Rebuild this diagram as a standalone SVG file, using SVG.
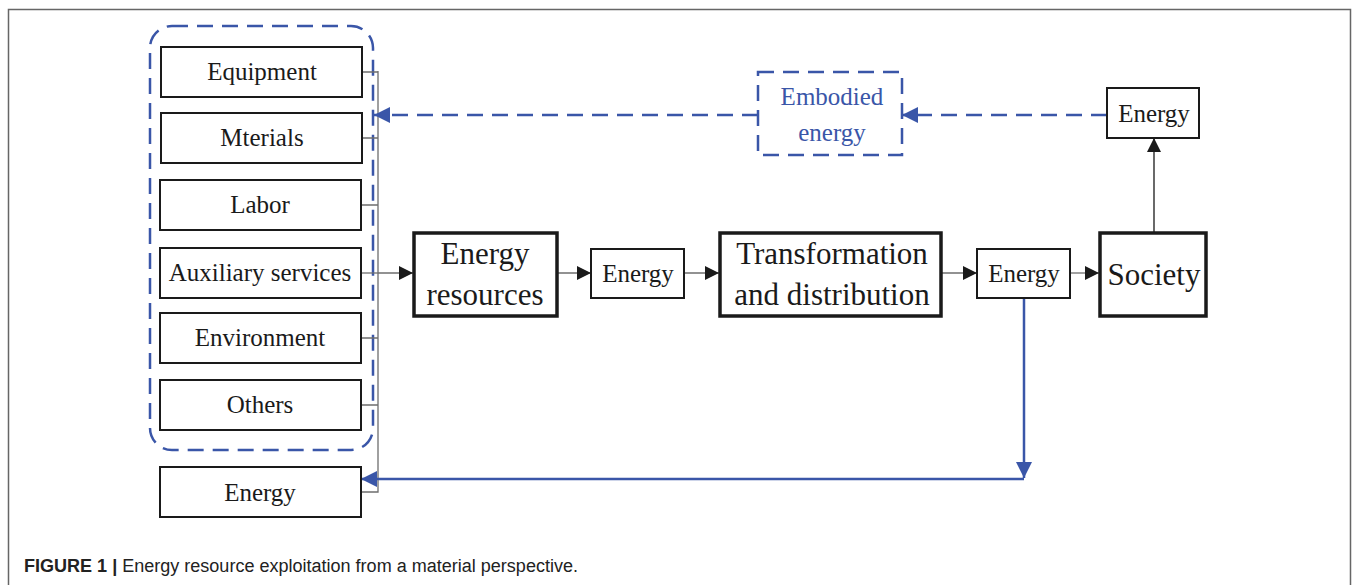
<svg xmlns="http://www.w3.org/2000/svg" width="1358" height="585" viewBox="0 0 1358 585">
<style>
.box{fill:#fff;stroke:#1a1a1a;stroke-width:2}
.thick{fill:#fff;stroke:#1a1a1a;stroke-width:3.5}
.t{font-family:"Liberation Serif","Times New Roman",serif;font-size:25px;fill:#1a1a1a;text-anchor:middle}
.tb{font-family:"Liberation Serif","Times New Roman",serif;font-size:31px;fill:#1a1a1a;text-anchor:middle}
.tblue{font-family:"Liberation Serif","Times New Roman",serif;font-size:25px;fill:#3a56a8;text-anchor:middle}
.gray{fill:none;stroke:#6e6e6e;stroke-width:1.3}
.blk{fill:none;stroke:#1a1a1a;stroke-width:1.3}
.bl{fill:none;stroke:#3a56a8;stroke-width:2.5}
.bld{fill:none;stroke:#3a56a8;stroke-width:2.5;stroke-dasharray:16 9}
</style>
<defs>
<marker id="ak" viewBox="0 0 10 10" refX="10" refY="5" markerWidth="14" markerHeight="14" markerUnits="userSpaceOnUse" orient="auto"><path d="M0,0 L10,5 L0,10 z" fill="#1a1a1a"/></marker>
<marker id="ab" viewBox="0 0 10 10" refX="10" refY="5" markerWidth="16" markerHeight="16" markerUnits="userSpaceOnUse" orient="auto"><path d="M0,0 L10,5 L0,10 z" fill="#3a56a8"/></marker>
</defs>
<rect width="1358" height="585" fill="#fff"/>
<path d="M8.5,590 V9.5 H1350.5 V590" fill="none" stroke="#666" stroke-width="1.5"/>

<g id="group-frame">
<rect x="150" y="26" width="223" height="424" rx="22" fill="none" stroke="#3a56a8" stroke-width="2.5" stroke-dasharray="16 9"/>
</g>

<g id="connectors">
<path class="gray" d="M362,72 H378 M362,138 H378 M361,205 H378 M361,338 H378 M361,405 H378 M361,492 H378 V71"/>
<path class="gray" d="M361,273 H378" />
<path class="gray" d="M378,273 H413" marker-end="url(#ak)"/>
<path class="gray" d="M557,273 H591" marker-end="url(#ak)"/>
<path class="gray" d="M684,273 H719" marker-end="url(#ak)"/>
<path class="gray" d="M941,273 H977" marker-end="url(#ak)"/>
<path class="gray" d="M1070,273 H1099" marker-end="url(#ak)"/>
<path class="blk" d="M1154,232 V138" marker-end="url(#ak)"/>
<path class="bld" d="M1107,115 H902" marker-end="url(#ab)"/>
<path class="bld" d="M758,115 H374" marker-end="url(#ab)"/>
<path class="bl" d="M1024,298 V478" marker-end="url(#ab)"/>
<path class="bl" d="M1024,479 H361" marker-end="url(#ab)"/>
</g>

<g id="equipment"><rect class="box" x="161" y="47" width="201" height="50"/><text class="t" x="262" y="80">Equipment</text></g>
<g id="materials"><rect class="box" x="161" y="113" width="201" height="50"/><text class="t" x="262" y="146">Mterials</text></g>
<g id="labor"><rect class="box" x="160" y="180" width="201" height="50"/><text class="t" x="260" y="213">Labor</text></g>
<g id="auxiliary"><rect class="box" x="160" y="248" width="201" height="50"/><text class="t" x="260" y="281">Auxiliary services</text></g>
<g id="environment"><rect class="box" x="160" y="313" width="201" height="50"/><text class="t" x="260" y="346">Environment</text></g>
<g id="others"><rect class="box" x="160" y="380" width="201" height="50"/><text class="t" x="260" y="413">Others</text></g>
<g id="energy-input"><rect class="box" x="160" y="467" width="201" height="50"/><text class="t" x="260" y="501">Energy</text></g>

<g id="energy-resources"><rect class="thick" x="414" y="233" width="143" height="83"/><text class="tb" x="485" y="264">Energy</text><text class="tb" x="485" y="305">resources</text></g>
<g id="energy-1"><rect class="box" x="591" y="249" width="93" height="49"/><text class="t" x="638" y="282">Energy</text></g>
<g id="transformation"><rect class="thick" x="720" y="233" width="221" height="83"/><text class="tb" x="832" y="264">Transformation</text><text class="tb" x="832" y="305">and distribution</text></g>
<g id="energy-2"><rect class="box" x="977" y="249" width="93" height="49"/><text class="t" x="1024" y="282">Energy</text></g>
<g id="society"><rect class="thick" x="1100" y="233" width="106" height="83"/><text class="tb" x="1154" y="285">Society</text></g>
<g id="energy-3"><rect class="box" x="1107" y="88" width="92" height="50"/><text class="t" x="1154" y="122">Energy</text></g>
<g id="embodied"><rect x="758" y="72" width="144" height="83" fill="#fff" stroke="#3a56a8" stroke-width="2.5" stroke-dasharray="16 9"/><text class="tblue" x="832" y="105">Embodied</text><text class="tblue" x="832" y="141">energy</text></g>

<g id="caption"><text x="24" y="572" font-family="'Liberation Sans',Arial,sans-serif" font-size="18" fill="#222" textLength="554" lengthAdjust="spacingAndGlyphs"><tspan font-weight="bold">FIGURE 1 |</tspan> Energy resource exploitation from a material perspective.</text></g>
</svg>
